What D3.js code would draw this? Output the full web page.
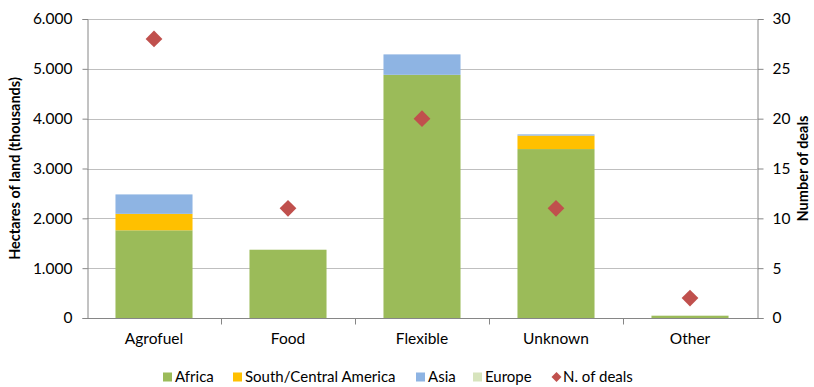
<!DOCTYPE html>
<html>
<head>
<meta charset="utf-8">
<script src="https://cdn.jsdelivr.net/npm/d3@7"></script>
<style>
  html, body { margin: 0; padding: 0; background: #fff; }
  svg { display: block; font-family: Lato, "Open Sans", sans-serif; }
</style>
</head>
<body>
<svg id="chart" width="814" height="387"></svg>
<script>
// Land deals by purpose (hectares in thousands) and number of deals
const categories = ["Agrofuel", "Food", "Flexible", "Unknown", "Other"];
const regions = ["Africa", "South/Central America", "Asia", "Europe"];
const africa = [1760, 1370, 4880, 3390, 45];
const southCentralAmerica = [330, 0, 0, 270, 0];
const asia = [390, 0, 410, 25, 0];
const europe = [0, 0, 0, 0, 8];
const deals = [28, 11, 20, 11, 2];
const leftTicks = [0, 1000, 2000, 3000, 4000, 5000, 6000];
const rightTicks = [0, 5, 10, 15, 20, 25, 30];

const colors = {
  "Africa": "#9BBB59",
  "South/Central America": "#FFC000",
  "Asia": "#8EB4E3",
  "Europe": "#D7E4BD"
};
const dealColor = "#C0504D";

const svg = d3.select("#chart");
const margin = { left: 87, right: 57, top: 19, bottom: 69 };
const W = 814, H = 387;
const x0 = margin.left, x1 = W - margin.right;
const yTop = margin.top, yBot = H - margin.bottom;

const x = d3.scaleBand().domain(categories).range([x0, x1])
  .paddingInner(0.425).paddingOuter(0.2125);
const yL = d3.scaleLinear().domain([0, 6000]).range([yBot, yTop]);
const yR = d3.scaleLinear().domain([0, 30]).range([yBot, yTop]);

const fmt = d => d === 0 ? "0" : d3.format(",")(d).replace(/,/g, ".");

// horizontal gridlines
svg.append("g").selectAll("line").data(leftTicks.filter(d => d > 0)).join("line")
  .attr("x1", x0).attr("x2", x1)
  .attr("y1", d => Math.round(yL(d)) + 0.5).attr("y2", d => Math.round(yL(d)) + 0.5)
  .attr("stroke", "#BFBFBF").attr("stroke-width", 1);

// stacked bars
const rows = categories.map((c, i) => ({
  category: c,
  "Africa": africa[i],
  "South/Central America": southCentralAmerica[i],
  "Asia": asia[i],
  "Europe": europe[i]
}));
const stacked = d3.stack().keys(regions)(rows);
svg.append("g").selectAll("g").data(stacked).join("g")
  .attr("fill", s => colors[s.key])
  .selectAll("rect").data(s => s).join("rect")
  .attr("x", d => x(d.data.category))
  .attr("width", x.bandwidth())
  .attr("y", d => yL(d[1]))
  .attr("height", d => Math.max(0, yL(d[0]) - yL(d[1])));

// left axis
const axL = svg.append("g").attr("transform", `translate(${x0 + 0.5},0)`)
  .call(d3.axisLeft(yL).tickValues(leftTicks).tickFormat(fmt).tickSize(5).tickPadding(10));
// right axis
const axR = svg.append("g").attr("transform", `translate(${x1 + 0.5},0)`)
  .call(d3.axisRight(yR).tickValues(rightTicks).tickSize(6).tickPadding(9));
// bottom axis with ticks between categories
const axB = svg.append("g").attr("transform", `translate(0,${Math.round(yBot) + 0.5})`)
  .call(d3.axisBottom(x).tickSize(0).tickPadding(14));
axB.selectAll(".sepTick")
  .data(d3.range(1, categories.length)).join("line")
  .attr("class", "sepTick")
  .attr("x1", i => Math.round(x0 + i * x.step()) + 0.5)
  .attr("x2", i => Math.round(x0 + i * x.step()) + 0.5)
  .attr("y1", 0).attr("y2", 6).attr("stroke", "#868686");
axB.append("line").attr("x1", x0).attr("x2", x1 + 1).attr("stroke", "#868686");

[axL, axR, axB].forEach(a => {
  a.select(".domain").attr("stroke", "#868686");
  a.selectAll(".tick line").attr("stroke", "#868686");
  a.selectAll("text").attr("font-size", 15.5).attr("fill", "#000")
    .attr("font-family", "Lato, 'Open Sans', sans-serif");
});
axB.select(".domain").remove();

// deal markers (diamonds on the right-hand scale)
svg.append("g").selectAll("path").data(deals).join("path")
  .attr("d", d3.symbol().type(d3.symbolSquare).size(140))
  .attr("transform", (d, i) => `translate(${x(categories[i]) + x.bandwidth() / 2},${yR(d)}) rotate(45)`)
  .attr("fill", dealColor);

// axis titles
svg.append("text")
  .attr("transform", `translate(20,${(yTop + yBot) / 2}) rotate(-90)`)
  .attr("text-anchor", "middle")
  .attr("font-size", 14.5).attr("font-weight", "bold")
  .text("Hectares of land (thousands)");
svg.append("text")
  .attr("transform", `translate(808,${(yTop + yBot) / 2}) rotate(-90)`)
  .attr("text-anchor", "middle")
  .attr("font-size", 14.5).attr("font-weight", "bold")
  .text("Number of deals");

// legend
const legendItems = [
  { label: "Africa", color: colors["Africa"], x: 163, type: "square" },
  { label: "South/Central America", color: colors["South/Central America"], x: 233, type: "square" },
  { label: "Asia", color: colors["Asia"], x: 416, type: "square" },
  { label: "Europe", color: colors["Europe"], x: 473, type: "square" },
  { label: "N. of deals", color: dealColor, x: 552, type: "diamond" }
];
const ly = 377;
const lg = svg.append("g").selectAll("g").data(legendItems).join("g")
  .attr("transform", d => `translate(${d.x},${ly})`);
lg.filter(d => d.type === "square").append("rect")
  .attr("x", 0).attr("y", -4.5).attr("width", 9).attr("height", 9)
  .attr("fill", d => d.color);
lg.filter(d => d.type === "diamond").append("path")
  .attr("d", d3.symbol().type(d3.symbolSquare).size(50))
  .attr("transform", "translate(4.5,0) rotate(45)")
  .attr("fill", d => d.color);
lg.append("text")
  .attr("x", d => d.type === "diamond" ? 11 : 12)
  .attr("dy", "0.35em")
  .attr("font-size", 15)
  .text(d => d.label);
</script>
</body>
</html>
